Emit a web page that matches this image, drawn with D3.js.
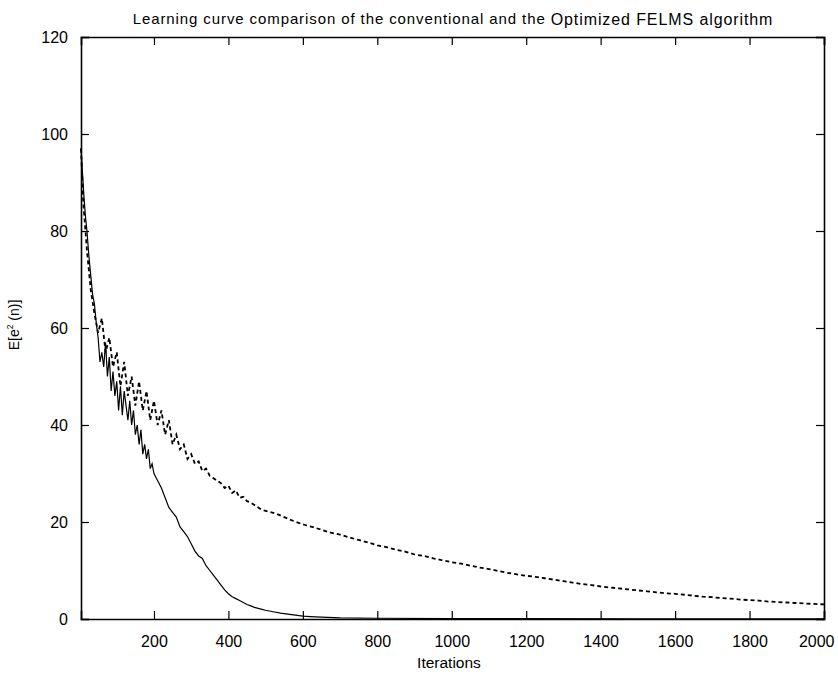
<!DOCTYPE html>
<html>
<head>
<meta charset="utf-8">
<script src="https://cdn.jsdelivr.net/npm/d3@7"></script>
<style>
  body { margin: 0; background: #fff; }
  text { font-family: "Liberation Sans", Arial, sans-serif; fill: #000; }
</style>
</head>
<body>
<svg id="chart" width="838" height="675"></svg>
<script>
// ---- data ----
const xTicks = [200, 400, 600, 800, 1000, 1200, 1400, 1600, 1800, 2000];
const yTicks = [0, 20, 40, 60, 80, 100, 120];

// Optimized FELMS (solid)
const optIter = [4,8,12,16,20,25,30,35,40,45,50,55,60,65,70,75,80,85,90,95,100,105,110,115,120,125,130,135,140,145,150,155,160,165,170,175,180,185,190,195,200,210,220,230,240,250,260,270,280,290,300,310,320,330,340,350,360,370,380,390,400,410,420,430,440,450,460,470,480,490,500,520,540,560,580,600,620,650,700,800,1000,1500,2000];
const optMSE  = [97,92,87,83,80,75,71,67,65,61,58,53,55,52,57,50,54,47,51,46,49,43,48,42,47,44,41,45,40,43,38,40,36,39,34,36,33,35,31,32,30,28.5,27,25,23,22,21,19,18,17,15.5,14,13,12.5,11,10,9,8,7,6,5.2,4.6,4.2,3.8,3.4,3.0,2.7,2.4,2.2,2.0,1.8,1.5,1.2,1.0,0.8,0.6,0.5,0.4,0.25,0.15,0.1,0.05,0.05];

// Conventional FELMS (dashed)
const convIter = [4,10,20,30,40,50,60,70,80,90,100,110,120,130,140,150,160,170,180,190,200,210,220,230,240,250,260,270,280,290,300,310,320,330,340,350,360,370,380,390,400,410,420,430,440,450,460,470,480,490,500,
  525,550,575,600,625,650,675,700,725,750,775,800,825,850,875,900,925,950,975,1000,1025,1050,1075,1100,1125,1150,1175,1200,1225,1250,1275,1300,1325,1350,1375,1400,1425,1450,1475,1500,1525,1550,1575,1600,1625,1650,1675,1700,1725,1750,1775,1800,1825,1850,1875,1900,1925,1950,1975,2000];
const convMSE  = [97,86,76,68,63,59,62,55,58,52,55,48,53,46,50,44,49,43,47,41,45,40,43,38,41,36,38,35,36,33,34,32,32.5,30.5,31,29.5,29,28.5,28,27,27.5,26,26.5,25,25.2,24.3,24,23.5,23,22.5,22.3,
  21.8,21,20.2,19.5,19,18.4,17.8,17.4,16.8,16.3,15.8,15.2,14.8,14.3,13.9,13.3,13.0,12.5,12.1,11.7,11.4,11.0,10.6,10.3,9.9,9.5,9.2,8.9,8.7,8.4,8.1,7.8,7.5,7.2,7.0,6.7,6.5,6.3,6.1,5.9,5.7,5.5,5.3,5.2,5.0,4.8,4.6,4.5,4.3,4.2,4.0,3.9,3.8,3.6,3.5,3.4,3.3,3.2,3.1,3.0];

// ---- layout ----
const W = 838, H = 675;
const m = { top: 37, right: 14, bottom: 56, left: 81 };
const iw = W - m.left - m.right, ih = H - m.top - m.bottom;

const svg = d3.select("#chart");
const g = svg.append("g").attr("transform", `translate(${m.left},${m.top})`);

const x = d3.scaleLinear().domain([4, 2000]).range([0, iw]);
const y = d3.scaleLinear().domain([0, 120]).range([ih, 0]);

const optData = optIter.map((d, i) => [d, optMSE[i]]);
const convData = convIter.map((d, i) => [d, convMSE[i]]);

g.append("defs").append("clipPath").attr("id", "clip")
  .append("rect").attr("x", -1).attr("width", iw + 1).attr("height", ih);

g.append("path").datum(convData)
  .attr("clip-path", "url(#clip)")
  .attr("d", d3.line().x(d => x(d[0])).y(d => y(d[1])).curve(d3.curveLinear))
  .attr("fill", "none").attr("stroke", "#000")
  .attr("stroke-width", 1.8).attr("stroke-dasharray", "4,3");

g.append("path").datum(optData)
  .attr("clip-path", "url(#clip)")
  .attr("d", d3.line().x(d => x(d[0])).y(d => y(d[1])).curve(d3.curveLinear))
  .attr("fill", "none").attr("stroke", "#000")
  .attr("stroke-width", 1.2);

// axes (inward ticks on all four sides)
const tl = 8;
const axB = g.append("g").attr("transform", `translate(0,${ih})`)
  .call(d3.axisBottom(x).tickValues(xTicks).tickSize(-tl).tickPadding(17).tickFormat(d3.format("d")));
const axT = g.append("g")
  .call(d3.axisTop(x).tickValues(xTicks).tickSize(-tl).tickFormat(""));
const axL = g.append("g")
  .call(d3.axisLeft(y).tickValues(yTicks).tickSize(-tl).tickPadding(13).tickFormat(d3.format("d")));
const axR = g.append("g").attr("transform", `translate(${iw},0)`)
  .call(d3.axisRight(y).tickValues(yTicks).tickSize(-tl).tickFormat(""));

[axB, axT, axL, axR].forEach(a => {
  a.select(".domain").attr("stroke", "#000").attr("stroke-width", 1.6);
  a.selectAll(".tick line").attr("stroke", "#000").attr("stroke-width", 1.2);
  a.selectAll("text").style("font-size", "16px").style("font-family", "'Liberation Sans', Arial, sans-serif");
});
// last x label kept inside the picture
axB.selectAll(".tick text").filter(d => d === 2000).attr("text-anchor", "end").attr("dx", 10);

// title
const title = svg.append("text")
  .attr("x", 453).attr("y", 24)
  .attr("text-anchor", "middle")
  .style("font-size", "15px")
  .style("letter-spacing", "0.9px");
title.append("tspan").text("Learning curve comparison of the conventional and the ");
title.append("tspan").style("font-size", "16px").attr("dy", 1).text("Optimized FELMS algorithm");

// x label
svg.append("text")
  .attr("x", 449).attr("y", 668)
  .attr("text-anchor", "middle")
  .style("font-size", "15.5px")
  .text("Iterations");

// y label
const yl = svg.append("text")
  .attr("transform", `translate(19,${325}) rotate(-90)`)
  .attr("text-anchor", "middle")
  .style("font-size", "14px");
yl.append("tspan").text("E[e");
yl.append("tspan").attr("dy", -6).style("font-size", "8.5px").text("2");
yl.append("tspan").attr("dy", 6).text(" (n)]");
</script>
</body>
</html>
